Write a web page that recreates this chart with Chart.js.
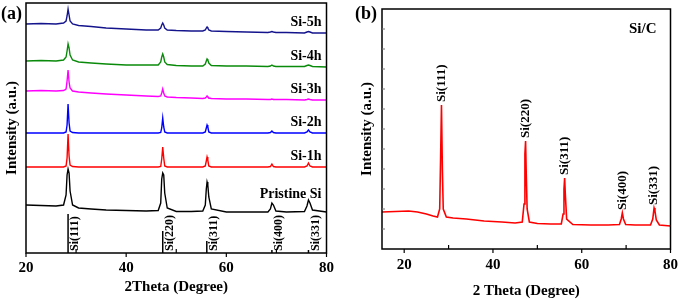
<!DOCTYPE html>
<html>
<head>
<meta charset="utf-8">
<script src="https://cdn.jsdelivr.net/npm/chart.js@4.4.1/dist/chart.umd.min.js"></script>
<style>
  html, body { margin: 0; padding: 0; background: #fff; }
  #wrap { position: relative; width: 685px; height: 300px; }
  .panel { position: absolute; top: 0; height: 300px; }
</style>
</head>
<body>
<div id="wrap">
  <div class="panel" style="left:0;width:340px"><canvas id="chartA"></canvas></div>
  <div class="panel" style="left:340px;width:345px"><canvas id="chartB"></canvas></div>
</div>
<script>
// ---- panel (a): milled Si samples, stacked with offsets (a.u.)
const theta = [20, 23, 26, 27.5, 28.0, 28.2, 28.4, 28.6, 28.8, 29.3, 30.5, 33, 36, 40, 44,
  46.4, 46.9, 47.1, 47.3, 47.5, 47.7, 48.2, 50, 53, 55.3, 55.8, 56.0, 56.15, 56.3, 56.5,
  57, 60, 64, 68.3, 68.8, 69.1, 69.4, 69.9, 72, 75.6, 76.1, 76.4, 76.7, 77.2, 80];

const si5h = [229, 229.5, 229, 230, 232, 237, 244, 238, 232, 229, 227.5, 226.5, 225, 224, 223,
  223, 225, 228, 230, 228, 225, 223, 222.5, 222, 222, 223, 225, 226, 225, 223,
  222, 221.5, 221, 220.5, 221, 221.5, 221, 220.5, 220.5, 220, 221, 221.5, 221, 220, 220];
const si4h = [192, 192.5, 192, 193, 196, 202, 209, 205, 198, 193, 191, 190, 189, 188, 188,
  188, 191, 196, 199, 196, 191, 188.5, 187.5, 187, 187, 189, 192, 194, 193, 190,
  187.5, 187, 187, 186.5, 187, 188, 187, 186.5, 186.5, 186.5, 187.5, 188, 187.5, 186.5, 186];
const si3h = [162, 162.5, 162, 162.5, 164, 172, 183, 171, 165, 162, 161, 160, 159, 158, 157,
  156.5, 157, 160, 164, 160, 157, 156, 155.5, 155, 154.5, 155, 156, 157, 156, 155,
  154.5, 154, 154, 153.5, 153.5, 154, 153.5, 153.5, 153.5, 153, 153.5, 154, 153.5, 153, 153];
const si2h = [120, 120, 120, 120, 121, 128, 149, 130, 122, 120.5, 120, 120, 120, 120, 120,
  120, 120.5, 125, 135, 126, 121, 120, 120, 120, 120, 121, 125, 128, 126, 121,
  120, 120, 120, 120, 120.5, 122, 120.5, 120, 120, 120, 121, 123, 121, 120, 120];
const si1h = [86, 86, 86, 86, 87, 95, 119, 97, 88, 86.5, 86, 86, 86, 86, 86,
  86, 86.5, 94, 106, 95, 87, 86, 86, 86, 86, 87, 92, 96, 93, 87,
  86, 86, 86, 86, 86.5, 89, 86.5, 86, 86, 86, 87, 90, 87, 86, 86];
const pristine = [48, 47.5, 47, 48, 58, 78, 84, 80, 62, 48, 45, 44, 43, 42.5, 42,
  42.5, 50, 74, 80, 78, 60, 45, 41.5, 41.5, 42, 48, 64, 71, 68, 56,
  44, 41, 41, 41, 44, 50, 48, 42, 41, 41.5, 47, 53, 50, 43, 41];

const sampleNames = ['Si-5h', 'Si-4h', 'Si-3h', 'Si-2h', 'Si-1h', 'Pristine Si'];

// reference pattern (sticks)
const refPeaks = [28.4, 47.3, 56.1, 69.1, 76.4];
const refHeights = [39, 22, 12, 3, 3];
const hklLabels = ['Si(111)', 'Si(220)', 'Si(311)', 'Si(400)', 'Si(331)'];

// ---- panel (b): Si/C composite
const thetaC = [15, 18, 21, 23, 25, 26.5, 27.5, 28.0, 28.2, 28.4, 28.6, 28.8, 29.5, 31, 34,
  38, 42, 45, 46.6, 47.0, 47.2, 47.35, 47.5, 47.7, 48.2, 50, 53, 55.4, 55.8, 56.0,
  56.15, 56.3, 56.6, 58, 62, 66, 68.5, 68.9, 69.15, 69.4, 69.9, 72, 75.5, 76.0, 76.3,
  76.5, 76.8, 77.5, 80];
const siC = [37, 37.5, 38, 37, 35, 33, 32, 40, 90, 144, 80, 40, 32, 31, 30,
  28, 27, 26, 27, 45, 95, 108, 75, 40, 27, 25.5, 25, 25, 35, 60,
  71, 55, 30, 24.5, 24, 24, 24.5, 30, 36, 30, 24.5, 24, 24, 30, 41,
  38, 29, 24, 23];
const peaksC = [28.4, 47.35, 56.15, 69.15, 76.3];
const sampleC = 'Si/C';

const FONT = '"Liberation Serif", "Times New Roman", serif';
const toXY = (xs, ys) => xs.map((x, i) => ({ x, y: ys[i] }));

function stickData() {
  const pts = [];
  refPeaks.forEach((p, i) => {
    pts.push({ x: p, y: 0 }, { x: p, y: refHeights[i] }, { x: p, y: null });
  });
  return pts;
}

function drawFrame(chart, yStep) {
  const { ctx, chartArea: a, scales: { x, y } } = chart;
  ctx.save();
  ctx.strokeStyle = '#000';
  ctx.lineWidth = 1.5;
  ctx.strokeRect(a.left, a.top, a.right - a.left, a.bottom - a.top);
  ctx.lineWidth = 1.2;
  for (let v = 20; v <= 80; v += 10) {
    const px = x.getPixelForValue(v);
    ctx.beginPath();
    ctx.moveTo(px, a.bottom);
    ctx.lineTo(px, v % 20 === 0 ? a.bottom + 4 : a.bottom - 4);
    ctx.stroke();
  }
  if (yStep) {
    ctx.strokeStyle = '#777';
    ctx.lineWidth = 1;
    for (let v = yStep; v < y.max; v += yStep) {
      const py = y.getPixelForValue(v);
      ctx.beginPath();
      ctx.moveTo(a.left, py);
      ctx.lineTo(a.left + 3, py);
      ctx.stroke();
    }
  }
  ctx.restore();
}

const series = [si5h, si4h, si3h, si2h, si1h, pristine];
const colorsA = ['#14148c', '#0a8a0a', '#ff00ff', '#0000ff', '#ff0000', '#000000'];
const nameLift = [11, 11, 11, 11, 11, 18];

const decorA = {
  id: 'decorA',
  afterDraw(chart) {
    const { ctx, chartArea: a, scales: { x, y } } = chart;
    drawFrame(chart, 0);
    ctx.save();
    ctx.fillStyle = '#000';
    // sample names
    ctx.font = 'bold 14px ' + FONT;
    ctx.textAlign = 'right';
    ctx.textBaseline = 'middle';
    series.forEach((s, i) => {
      const py = y.getPixelForValue(s[s.length - 1]) - nameLift[i];
      ctx.fillText(sampleNames[i], a.right - 5, py);
    });
    // hkl labels beside reference sticks
    ctx.font = 'bold 12px ' + FONT;
    ctx.textAlign = 'left';
    refPeaks.forEach((p, i) => {
      ctx.save();
      ctx.translate(x.getPixelForValue(p) + 7, a.bottom - 2);
      ctx.rotate(-Math.PI / 2);
      ctx.fillText(hklLabels[i], 0, 0);
      ctx.restore();
    });
    ctx.font = 'bold 18px ' + FONT;
    ctx.fillText('(a)', 1, 14);
    ctx.restore();
  }
};

const decorB = {
  id: 'decorB',
  afterDraw(chart) {
    const { ctx, chartArea: a, scales: { x, y } } = chart;
    drawFrame(chart, 20);
    ctx.save();
    ctx.fillStyle = '#000';
    ctx.font = 'bold 15px ' + FONT;
    ctx.textAlign = 'right';
    ctx.textBaseline = 'middle';
    ctx.fillText(sampleC, a.right - 14, 29);
    ctx.font = 'bold 13px ' + FONT;
    ctx.textAlign = 'left';
    peaksC.forEach((p, i) => {
      const top = siC[thetaC.indexOf(p)];
      ctx.save();
      ctx.translate(x.getPixelForValue(p), y.getPixelForValue(top) - 3);
      ctx.rotate(-Math.PI / 2);
      ctx.fillText(hklLabels[i], 0, 0);
      ctx.restore();
    });
    ctx.font = 'bold 18px ' + FONT;
    ctx.fillText('(b)', 15, 14);
    ctx.restore();
  }
};

function axisX(min, tickPad, titleText, titlePad) {
  return {
    type: 'linear', min, max: 80,
    grid: { display: false, drawTicks: false },
    border: { display: false },
    ticks: {
      stepSize: 10, autoSkip: false, maxRotation: 0, padding: tickPad, includeBounds: false,
      color: '#000', font: { family: FONT, size: 15, weight: 'bold' },
      callback: v => (v % 20 === 0 ? v : '')
    },
    title: {
      display: true, text: titleText, color: '#000',
      font: { family: FONT, size: 15, weight: 'bold' },
      padding: { top: 0, bottom: titlePad }
    }
  };
}

function axisY(max, width, titlePad) {
  return {
    min: 0, max,
    grid: { display: false, drawTicks: false },
    border: { display: false },
    ticks: { display: false },
    title: {
      display: true, text: 'Intensity (a.u.)', color: '#000',
      font: { family: FONT, size: 15, weight: 'bold' },
      padding: { top: titlePad, bottom: 0 }
    },
    afterFit: s => { s.width = width; }
  };
}

const lineStyle = { pointRadius: 0, borderWidth: 1.4, tension: 0, fill: false };

const xA = axisX(20, 6, '2Theta (Degree)', 4);
xA.afterFit = s => { s.height = 47; };
new Chart(document.getElementById('chartA'), {
  type: 'line',
  data: {
    datasets: series.map((s, i) => ({
      label: sampleNames[i], data: toXY(theta, s), borderColor: colorsA[i], ...lineStyle
    })).concat([{
      label: 'Si reference', data: stickData(), borderColor: '#000',
      ...lineStyle, borderWidth: 1.5, spanGaps: false
    }])
  },
  options: {
    responsive: true, maintainAspectRatio: false, animation: false,
    layout: { padding: { top: 3, right: 8, left: 0, bottom: 0 } },
    plugins: { legend: { display: false }, tooltip: { enabled: false } },
    scales: { x: xA, y: axisY(250, 26, 3) }
  },
  plugins: [decorA]
});

const xB = axisX(15, 7, '2 Theta (Degree)', 0);
xB.afterFit = s => { s.height = 51; };
new Chart(document.getElementById('chartB'), {
  type: 'line',
  data: {
    datasets: [{ label: sampleC, data: toXY(thetaC, siC), borderColor: '#ff0000', ...lineStyle, borderWidth: 1.6 }]
  },
  options: {
    responsive: true, maintainAspectRatio: false, animation: false,
    layout: { padding: { top: 9, right: 8, left: 0, bottom: 0 } },
    plugins: { legend: { display: false }, tooltip: { enabled: false } },
    scales: { x: xB, y: axisY(240, 42, 18) }
  },
  plugins: [decorB]
});
</script>
</body>
</html>
